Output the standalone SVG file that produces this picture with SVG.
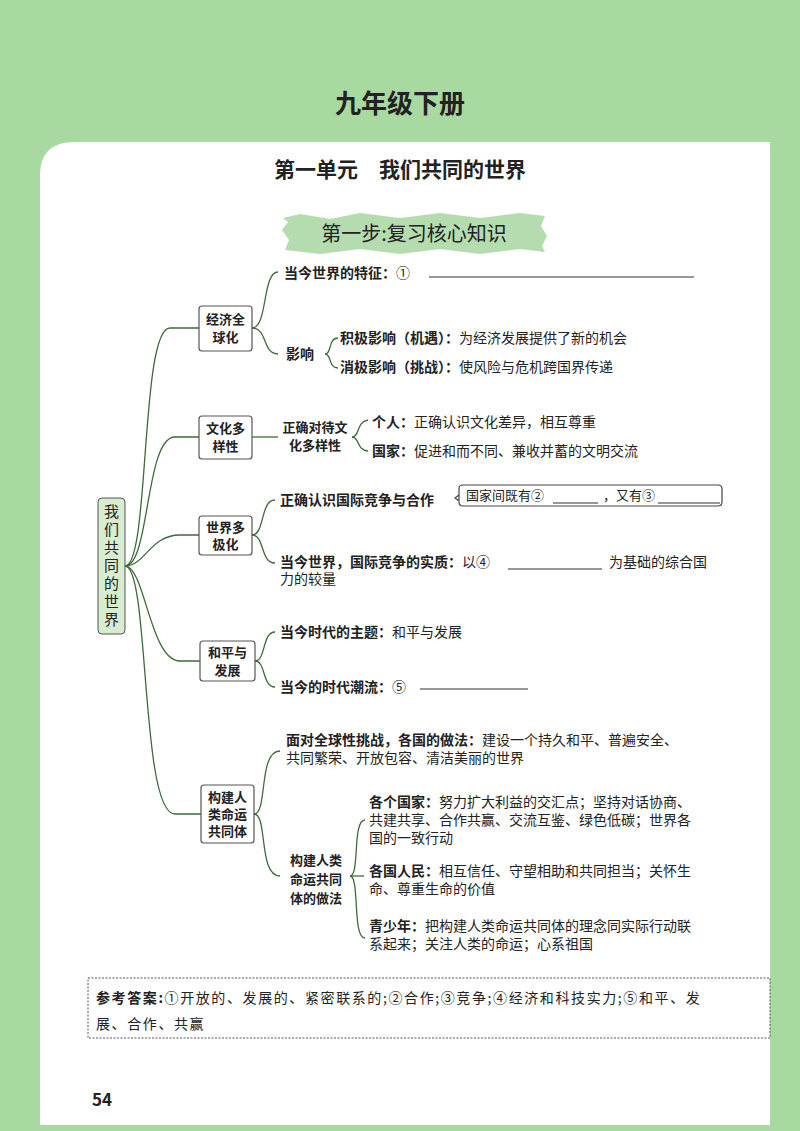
<svg xmlns="http://www.w3.org/2000/svg" width="800" height="1131" viewBox="0 0 800 1131">
<style>
text{font-family:"Noto Sans CJK SC","Liberation Sans",sans-serif;fill:#222}
.b{font-weight:bold}
.t{font-size:14px}
.n{font-size:13px;font-weight:bold;text-anchor:middle}
.box{fill:#fff;stroke:#555;stroke-width:1.2}
.c{fill:none;stroke:#3d6b3a;stroke-width:1.3}
.u{stroke:#333;stroke-width:1.2}
</style>
<rect width="800" height="1131" fill="#a8d9a0"/>
<path d="M40 175 Q40 142 75 142 L770 142 L770 1125 L40 1125 Z" fill="#fff"/>
<text x="400" y="113" class="b" font-size="26" text-anchor="middle">九年级下册</text>
<text x="400" y="177" class="b" font-size="21" text-anchor="middle">第一单元　我们共同的世界</text>
<path d="M283 218 L300 214 L330 219 L360 213 L400 218 L440 213 L480 218 L520 213 L545 216 L541 226 L547 236 L542 246 L545 252 L520 249 L480 254 L440 249 L400 254 L360 249 L320 254 L285 250 L289 240 L282 230 L288 222 Z" fill="#b5dcae"/>
<text x="414" y="241" font-size="20" text-anchor="middle">第一步:复习核心知识</text>

<g id="connectors">
<path class="c" d="M125 566 C150 566 140 328 170 328 L199 328"/>
<path class="c" d="M125 566 C150 566 145 437 175 437 L199 437"/>
<path class="c" d="M125 566 C145 566 150 535 180 535 L199 535"/>
<path class="c" d="M125 566 C145 566 150 661 180 661 L200 661"/>
<path class="c" d="M125 566 C150 566 140 814 175 814 L201 814"/>
<path class="c" d="M252 328 C268 328 262 272 278 272"/>
<path class="c" d="M252 328 C268 328 262 354 278 354"/>
<path class="c" d="M325 354 C332 354 328 338 338 338"/>
<path class="c" d="M325 354 C332 354 328 368 338 368"/>
<path class="c" d="M252 437 L278 437"/>
<path class="c" d="M352 437 C360 437 356 422 368 420"/>
<path class="c" d="M352 437 C360 437 356 450 368 451"/>
<path class="c" d="M252 535 C265 535 260 500 275 500"/>
<path class="c" d="M252 535 C265 535 260 563 275 563"/>
<path class="c" d="M255 661 C266 661 262 632 275 632"/>
<path class="c" d="M255 661 C266 661 262 687 275 687"/>
<path class="c" d="M254 814 C268 814 258 751 280 751"/>
<path class="c" d="M254 814 C268 814 258 876 280 876"/>
<path class="c" d="M350 876 C360 876 352 820 365 820"/>
<path class="c" d="M350 876 L364 876"/>
<path class="c" d="M350 876 C360 876 352 938 365 938"/>
</g>

<g id="root"><rect x="98" y="498" width="27" height="136" rx="4" fill="#d8ecd0" stroke="#555"/>
<text font-size="15" text-anchor="middle"><tspan x="111.5" y="517">我</tspan><tspan x="111.5" y="535">们</tspan><tspan x="111.5" y="553">共</tspan><tspan x="111.5" y="571">同</tspan><tspan x="111.5" y="589">的</tspan><tspan x="111.5" y="607">世</tspan><tspan x="111.5" y="625">界</tspan></text></g>

<g id="n1"><rect class="box" x="199" y="306" width="53" height="45" rx="3"/><text class="n" x="225.5" y="324">经济全</text><text class="n" x="225.5" y="342">球化</text></g>
<g id="n2"><rect class="box" x="199" y="416" width="53" height="43" rx="3"/><text class="n" x="225.5" y="433">文化多</text><text class="n" x="225.5" y="451">样性</text></g>
<g id="n3"><rect class="box" x="199" y="516" width="53" height="39" rx="3"/><text class="n" x="225.5" y="532">世界多</text><text class="n" x="225.5" y="549">极化</text></g>
<g id="n4"><rect class="box" x="200" y="641" width="55" height="40" rx="3"/><text class="n" x="227.5" y="657">和平与</text><text class="n" x="227.5" y="675">发展</text></g>
<g id="n5"><rect class="box" x="201" y="785" width="53" height="58" rx="3"/><text class="n" x="227.5" y="802">构建人</text><text class="n" x="227.5" y="819">类命运</text><text class="n" x="227.5" y="836">共同体</text></g>

<g id="texts">
<text class="t b" x="284" y="278">当今世界的特征：<tspan font-weight="normal">①</tspan></text>
<line class="u" x1="429" y1="277" x2="694" y2="277"/>
<text class="t b" x="286" y="359">影响</text>
<text class="t" x="340" y="343"><tspan class="b">积极影响（机遇）：</tspan>为经济发展提供了新的机会</text>
<text class="t" x="340" y="372"><tspan class="b">消极影响（挑战）：</tspan>使风险与危机跨国界传递</text>
<text class="n" x="315" y="432">正确对待文</text><text class="n" x="315" y="450">化多样性</text>
<text class="t" x="372" y="427"><tspan class="b">个人：</tspan>正确认识文化差异，相互尊重</text>
<text class="t" x="372" y="456"><tspan class="b">国家：</tspan>促进和而不同、兼收并蓄的文明交流</text>
<text class="t b" x="280" y="505">正确认识国际竞争与合作</text>
<path d="M459 495 L455 498 L459 501 L459 488 Q459 485 463 485 L718 485 Q722 485 722 489 L722 502 Q722 506 718 506 L463 506 Q459 506 459 502" fill="none" stroke="#444" stroke-width="1.2"/>
<text x="466" y="500" font-size="13">国家间既有②</text>
<line class="u" x1="553" y1="503" x2="598" y2="503"/>
<text x="603" y="500" font-size="13">，又有③</text>
<line class="u" x1="658" y1="503" x2="720" y2="503"/>
<text class="t" x="280" y="567"><tspan class="b">当今世界，国际竞争的实质：</tspan>以④</text>
<line class="u" x1="508" y1="569" x2="602" y2="569"/>
<text class="t" x="609" y="567">为基础的综合国</text>
<text class="t" x="280" y="584">力的较量</text>
<text class="t" x="280" y="637"><tspan class="b">当今时代的主题：</tspan>和平与发展</text>
<text class="t b" x="280" y="692">当今的时代潮流：<tspan font-weight="normal">⑤</tspan></text>
<line class="u" x1="420" y1="689" x2="528" y2="689"/>
<text class="t" x="286" y="745"><tspan class="b">面对全球性挑战，各国的做法：</tspan>建设一个持久和平、普遍安全、</text>
<text class="t" x="286" y="763">共同繁荣、开放包容、清洁美丽的世界</text>
<text class="n" x="316" y="865">构建人类</text><text class="n" x="316" y="884">命运共同</text><text class="n" x="316" y="903">体的做法</text>
<text class="t" x="369" y="807"><tspan class="b">各个国家：</tspan>努力扩大利益的交汇点；坚持对话协商、</text>
<text class="t" x="369" y="825">共建共享、合作共赢、交流互鉴、绿色低碳；世界各</text>
<text class="t" x="369" y="843">国的一致行动</text>
<text class="t" x="369" y="876"><tspan class="b">各国人民：</tspan>相互信任、守望相助和共同担当；关怀生</text>
<text class="t" x="369" y="894">命、尊重生命的价值</text>
<text class="t" x="369" y="931"><tspan class="b">青少年：</tspan>把构建人类命运共同体的理念同实际行动联</text>
<text class="t" x="369" y="949">系起来；关注人类的命运；心系祖国</text>
</g>

<rect x="88" y="978" width="682" height="60" fill="none" stroke="#555" stroke-dasharray="2 1.5"/>
<text x="96" y="1003" font-size="14" letter-spacing="1.6"><tspan class="b">参考答案:</tspan>①开放的、发展的、紧密联系的;②合作;③竞争;④经济和科技实力;⑤和平、发</text>
<text x="96" y="1029" font-size="14" letter-spacing="1.6">展、合作、共赢</text>
<text x="92" y="1106" class="b" font-size="17">54</text>
</svg>
